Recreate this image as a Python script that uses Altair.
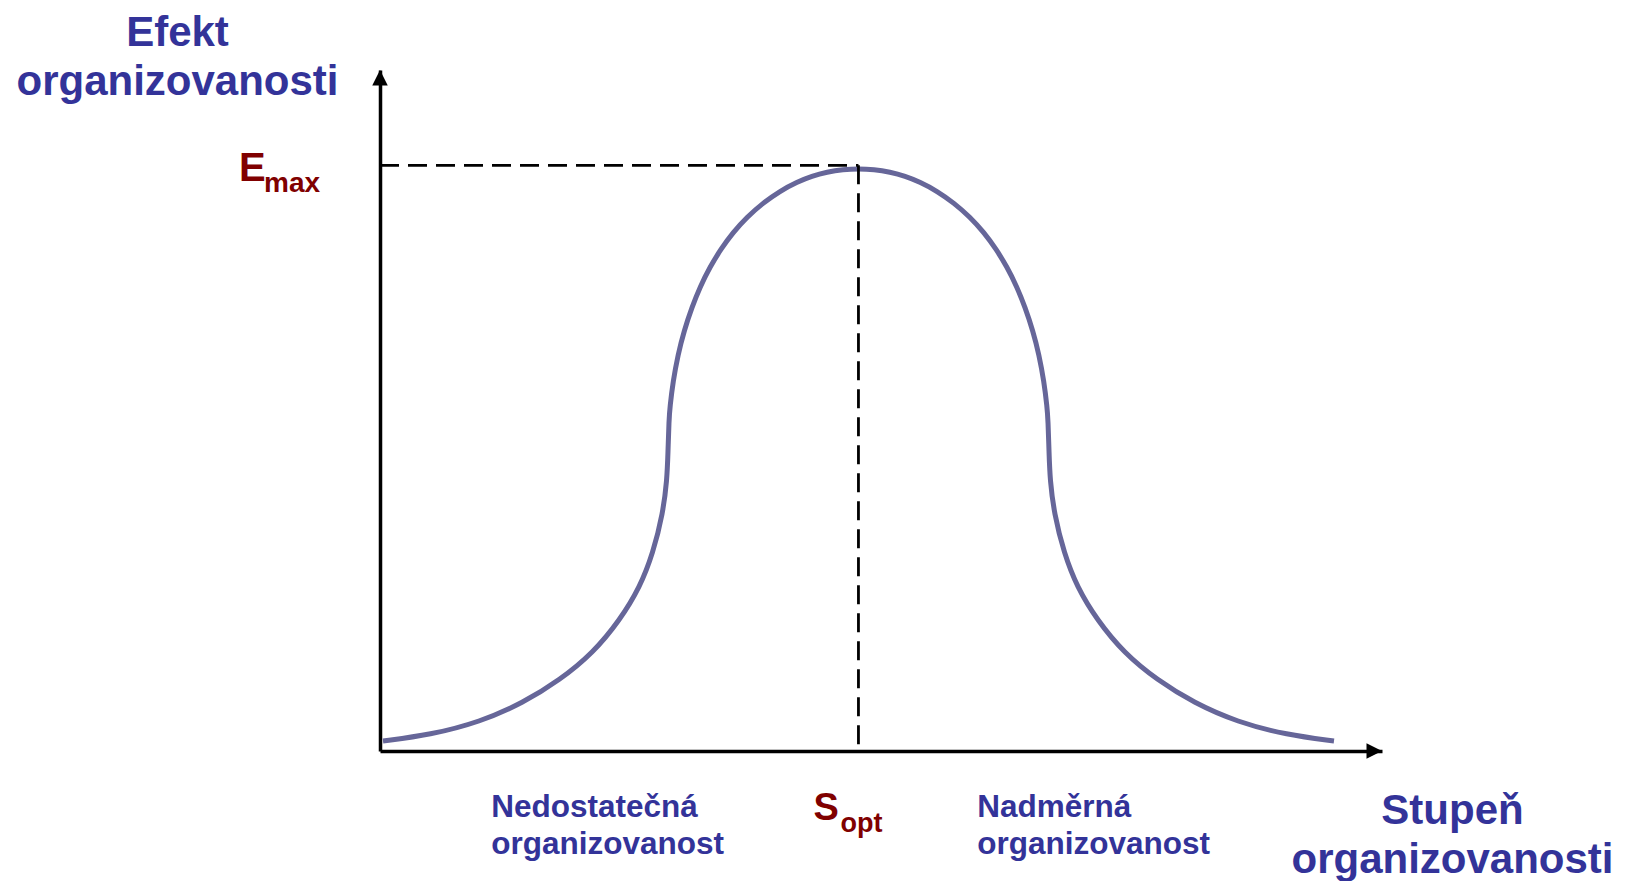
import altair as alt
import pandas as pd

# ---- data (x: Stupeň 0-100, y: Efekt 0-100) ----
curve_s = [0.30, 4.99, 9.98, 14.27, 17.96, 21.26, 23.95, 25.95, 27.25, 28.24, 28.64, 28.74,
           28.84, 28.94, 29.24, 29.74, 30.34, 31.14, 31.94, 32.93, 34.03, 35.23, 36.63, 38.22,
           39.92, 41.62, 43.11, 44.61, 46.21, 47.75,
           49.30, 50.90, 52.40, 53.89, 55.59, 57.29, 58.88, 60.28, 61.48, 62.58, 63.57, 64.37,
           65.17, 65.77, 66.27, 66.57, 66.67, 66.77,
           66.87, 67.27, 68.26, 69.56, 71.56, 74.25, 77.55, 81.24, 85.53, 90.52, 95.21]
curve_e = [1.47, 2.35, 4.26, 7.05, 10.43, 14.39, 19.24, 24.08, 29.07, 34.95, 39.79, 43.76,
           48.65, 50.54, 54.21, 58.21, 61.67, 65.20, 68.14, 71.07, 73.72, 76.14, 78.41, 80.47,
           82.23, 83.55, 84.43, 85.02, 85.39, 85.51,
           85.39, 85.02, 84.43, 83.55, 82.23, 80.47, 78.41, 76.14, 73.72, 71.07, 68.14, 65.20,
           61.67, 58.21, 54.21, 50.54, 48.65, 43.76,
           39.79, 34.95, 29.07, 24.08, 19.24, 14.39, 10.43, 7.05, 4.26, 2.35, 1.47]

E_MAX = 86.0
S_OPT = 47.75
AXIS_MIN = 0
AXIS_MAX = 100

y_title = ["Efekt", "organizovanosti"]
x_title = ["Stupeň", "organizovanosti"]
label_low = "Nedostatečná\norganizovanost"
label_high = "Nadměrná\norganizovanost"
label_low_s = 11.1
label_high_s = 59.6

BLUE = "#333399"
RED = "#800000"
FONT = "Liberation Sans"

curve = pd.DataFrame({"s": curve_s, "e": curve_e})
guides = pd.DataFrame({
    "s": [AXIS_MIN, S_OPT], "e": [E_MAX, E_MAX],
    "s2": [S_OPT, S_OPT], "e2": [E_MAX, AXIS_MIN],
})
arrows = pd.DataFrame({
    "s": [AXIS_MIN, AXIS_MAX], "e": [AXIS_MAX, AXIS_MIN],
    "shape": ["M0,0L-1,2L1,2Z", "M0,0L-2,-1L-2,1Z"],
})
emax_pt = pd.DataFrame({"s": [AXIS_MIN], "e": [E_MAX]})
sopt_pt = pd.DataFrame({"s": [S_OPT], "e": [AXIS_MIN]})
labels_df = pd.DataFrame({"s": [label_low_s, label_high_s], "e": [AXIS_MIN, AXIS_MIN],
                          "t": [label_low, label_high]})

xs = alt.Scale(domain=[AXIS_MIN, AXIS_MAX], nice=False, zero=False)
ys = alt.Scale(domain=[AXIS_MIN, AXIS_MAX], nice=False, zero=False)

common_axis = dict(domain=True, domainColor="black", domainWidth=3.5, domainCap="butt",
                   ticks=False, labels=False, grid=False, titleAngle=0, titleAlign="center",
                   titleBaseline="alphabetic", titleFont=FONT, titleFontSize=42,
                   titleFontWeight="bold", titleColor=BLUE)
x_axis = alt.Axis(title=x_title, titleX=1072, titleY=72, titleLineHeight=49, **common_axis)
y_axis = alt.Axis(title=y_title, titleX=-203, titleY=-25, titleLineHeight=49, **common_axis)

X = alt.X("s:Q", scale=xs, axis=x_axis)
Y = alt.Y("e:Q", scale=ys, axis=y_axis)

line = alt.Chart(curve).mark_line(color="#666699", strokeWidth=5,
                                  interpolate="basis").encode(x=X, y=Y)

dashes = alt.Chart(guides).mark_rule(color="black", strokeWidth=2.8,
                                     strokeDash=[19, 9]).encode(
    x=alt.X("s:Q", scale=xs), x2="s2:Q", y=alt.Y("e:Q", scale=ys), y2="e2:Q")

heads = alt.Chart(arrows).mark_point(filled=True, size=240, color="black", opacity=1,
                                     strokeWidth=0).encode(
    x=alt.X("s:Q", scale=xs), y=alt.Y("e:Q", scale=ys),
    shape=alt.Shape("shape:N", scale=None))

def txt(df, text, dx, dy, size, color):
    return alt.Chart(df).mark_text(text=text, align="left", baseline="alphabetic", dx=dx, dy=dy,
                                   font=FONT, fontSize=size, fontWeight="bold",
                                   color=color).encode(
        x=alt.X("s:Q", scale=xs), y=alt.Y("e:Q", scale=ys))

e_big = txt(emax_pt, "E", -141, 16, 40, RED)
e_sub = txt(emax_pt, "max", -116, 27, 28, RED)
s_big = txt(sopt_pt, "S", -45, 69, 38, RED)
s_sub = txt(sopt_pt, "opt", -18, 81, 27, RED)

labels = alt.Chart(labels_df).mark_text(align="left", baseline="alphabetic", dy=66,
                                        lineBreak="\n", lineHeight=37, font=FONT, fontSize=31.5,
                                        fontWeight="bold", color=BLUE).encode(
    x=alt.X("s:Q", scale=xs), y=alt.Y("e:Q", scale=ys), text="t:N")

chart = alt.layer(line, dashes, heads, e_big, e_sub, s_big, s_sub, labels).properties(
    width=1002, height=681,
    background="white",
    autosize=alt.AutoSizeParams(type="none"),
    padding={"left": 372, "top": 62, "right": 243, "bottom": 130},
).configure_view(stroke=None).configure_axis(
    domain=True, domainColor="black", domainWidth=3.5,
    ticks=False, labels=False, grid=False,
)

chart.save("out.html", embed_options={"renderer": "svg", "actions": False})
